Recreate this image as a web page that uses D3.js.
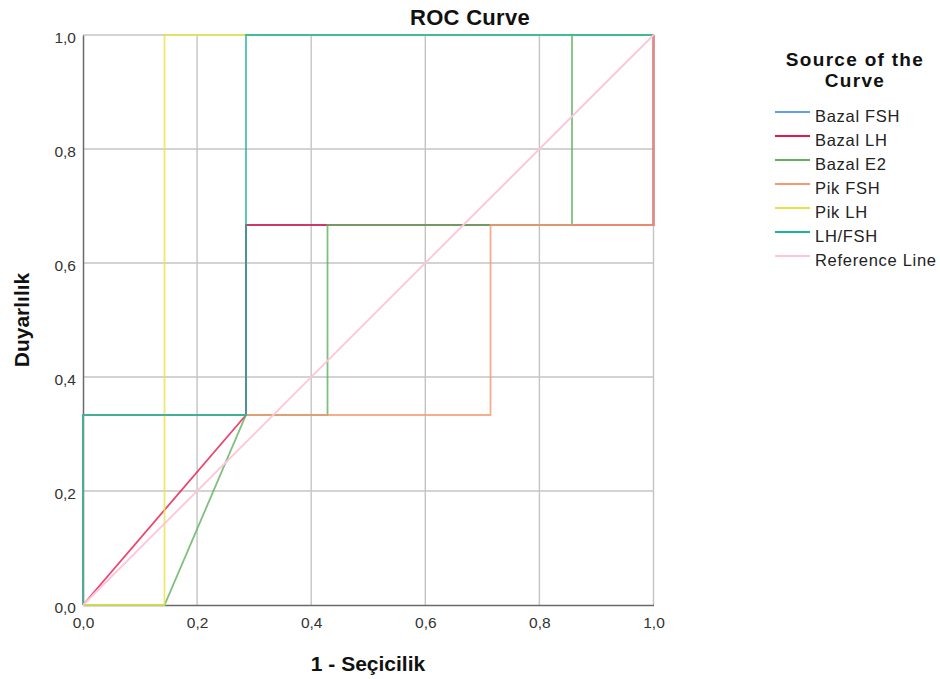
<!DOCTYPE html>
<html>
<head>
<meta charset="utf-8">
<script src="https://cdn.jsdelivr.net/npm/d3@7"></script>
<style>
  body { margin: 0; background: #fff; }
  svg text { font-family: "Liberation Sans", Arial, sans-serif; }
</style>
</head>
<body>
<svg></svg>
<script>
// Series names and colours, in drawing order
const seriesNames = ["Bazal FSH", "Bazal LH", "Bazal E2", "Pik FSH", "Pik LH", "LH/FSH", "Reference Line"];
const seriesColors = ["#5f9fe8", "#e5184c", "#5fb05f", "#f59a70", "#e8e24a", "#1db39c", "#fdc5db"];

// 1 - Seçicilik values (x) and Duyarlılık values (y) for each curve
const bazalFshX = [0, 0, 0.2857, 0.2857, 1, 1];
const bazalFshY = [0, 0.3333, 0.3333, 0.6667, 0.6667, 1];
const bazalLhX = [0, 0.2857, 0.2857, 1, 1];
const bazalLhY = [0, 0.3333, 0.6667, 0.6667, 1];
const bazalE2X = [0, 0.1429, 0.2857, 0.4286, 0.4286, 0.8571, 0.8571, 1];
const bazalE2Y = [0, 0, 0.3333, 0.3333, 0.6667, 0.6667, 1, 1];
const pikFshX = [0, 0, 0.2857, 0.7143, 0.7143, 1, 1];
const pikFshY = [0, 0.3333, 0.3333, 0.3333, 0.6667, 0.6667, 1];
const pikLhX = [0, 0.1429, 0.1429, 1];
const pikLhY = [0, 0, 1, 1];
const lhFshX = [0, 0, 0.2857, 0.2857, 1];
const lhFshY = [0, 0.3333, 0.3333, 1, 1];
const refX = [0, 1];
const refY = [0, 1];

const seriesX = [bazalFshX, bazalLhX, bazalE2X, pikFshX, pikLhX, lhFshX, refX];
const seriesY = [bazalFshY, bazalLhY, bazalE2Y, pikFshY, pikLhY, lhFshY, refY];

const tickValues = [0, 0.2, 0.4, 0.6, 0.8, 1.0];
const tickLabels = ["0,0", "0,2", "0,4", "0,6", "0,8", "1,0"];

const width = 940, height = 679;
const svg = d3.select("svg").attr("width", width).attr("height", height);

// plot area
const plotLeft = 83, plotRight = 653.5, plotTop = 35, plotBottom = 605;
const x = d3.scaleLinear().domain([0, 1]).range([plotLeft, plotRight]);
const y = d3.scaleLinear().domain([0, 1]).range([plotBottom, plotTop]);

// gridlines
const grid = svg.append("g");
grid.selectAll("line.gx").data(tickValues.slice(1)).enter().append("line")
    .attr("x1", d => x(d)).attr("x2", d => x(d))
    .attr("y1", plotTop).attr("y2", plotBottom)
    .attr("stroke", "#c4c4c4").attr("stroke-width", 1.4);
grid.selectAll("line.gy").data(tickValues.slice(1)).enter().append("line")
    .attr("x1", plotLeft).attr("x2", plotRight)
    .attr("y1", d => y(d)).attr("y2", d => y(d))
    .attr("stroke", "#c4c4c4").attr("stroke-width", 1.4);

// axes
const xAxis = d3.axisBottom(x).tickValues(tickValues).tickSize(0)
    .tickFormat((d, i) => tickLabels[i]);
const yAxis = d3.axisLeft(y).tickValues(tickValues).tickSize(0)
    .tickFormat((d, i) => tickLabels[i]);

const gx = svg.append("g").attr("transform", `translate(0,${plotBottom})`).call(xAxis);
gx.select(".domain").attr("stroke", "#6a6a6a").attr("stroke-width", 1.5);
gx.selectAll("text").attr("dy", "1.32em").attr("font-size", 15.5).attr("fill", "#333")
    .attr("font-family", "Liberation Sans, Arial, sans-serif");

const gy = svg.append("g").attr("transform", `translate(${plotLeft},0)`).call(yAxis);
gy.select(".domain").attr("stroke", "#6a6a6a").attr("stroke-width", 1.5);
gy.selectAll("text").attr("x", -7).attr("dy", "0.48em").attr("font-size", 15.5).attr("fill", "#333")
    .attr("font-family", "Liberation Sans, Arial, sans-serif");

// curves
const line = d3.line().x(d => x(d[0])).y(d => y(d[1])).curve(d3.curveLinear);
seriesNames.forEach(function (name, i) {
    let pts = seriesX[i].map((v, k) => [v, seriesY[i][k]]);
    svg.append("path")
        .attr("d", line(pts))
        .attr("fill", "none")
        .attr("stroke", seriesColors[i])
        .attr("stroke-width", 1.8)
        .attr("stroke-opacity", i == 6 ? 1 : 0.8);
});

// titles
svg.append("text").attr("x", 470).attr("y", 25).attr("text-anchor", "middle")
    .attr("font-size", 22).attr("font-weight", "bold").attr("letter-spacing", 0.3)
    .attr("fill", "#111").text("ROC Curve");
svg.append("text").attr("x", 368).attr("y", 671).attr("text-anchor", "middle")
    .attr("font-size", 21).attr("font-weight", "bold").attr("fill", "#111").text("1 - Seçicilik");
svg.append("text").attr("transform", "translate(29,320) rotate(-90)").attr("text-anchor", "middle")
    .attr("font-size", 21).attr("font-weight", "bold").attr("fill", "#111").text("Duyarlılık");

// legend
const legend = svg.append("g");
legend.append("text").attr("x", 855).attr("y", 66).attr("text-anchor", "middle")
    .attr("font-size", 19).attr("font-weight", "bold").attr("letter-spacing", 1.3)
    .attr("fill", "#111").text("Source of the");
legend.append("text").attr("x", 855).attr("y", 87).attr("text-anchor", "middle")
    .attr("font-size", 19).attr("font-weight", "bold").attr("letter-spacing", 1.3)
    .attr("fill", "#111").text("Curve");
seriesNames.forEach(function (name, i) {
    let ly = 112 + i * 24;
    legend.append("line").attr("x1", 775).attr("x2", 810).attr("y1", ly).attr("y2", ly)
        .attr("stroke", seriesColors[i]).attr("stroke-width", 1.8);
    legend.append("text").attr("x", 815).attr("y", ly + 10).attr("font-size", 16.5)
        .attr("letter-spacing", 0.7).attr("fill", "#222").text(name);
});
</script>
</body>
</html>
